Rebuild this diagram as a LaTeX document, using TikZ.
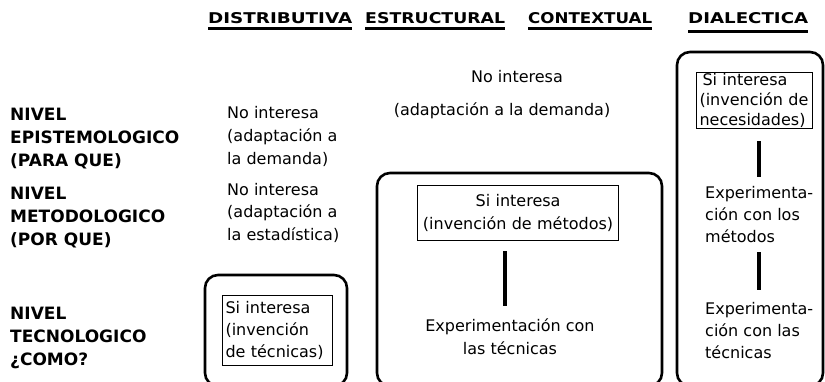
\documentclass[tikz,border=0pt]{standalone}
\usepackage{fontspec}
\setmainfont{DejaVu Sans}
\begin{document}
\begin{tikzpicture}[x=1pt,y=-1pt,
  hdr/.style={inner sep=0pt, anchor=base west, font=\bfseries},
  uline/.style={line width=3pt},
  lbl/.style={inner sep=0pt, anchor=base west, align=left, font=\fontsize{17}{23}\selectfont\bfseries},
  body/.style={inner sep=0pt, align=left, font=\fontsize{16}{23}\selectfont},
  frame/.style={draw, line width=2.6pt, rounded corners=13pt},
  ibox/.style={draw, line width=1.1pt, anchor=north west, inner ysep=0pt, inner xsep=3pt},
  link/.style={line width=3.5pt}]
\useasboundingbox (0,0) rectangle (825,382);

% headers
\node[hdr] (h1) at (208,24) {\resizebox{144pt}{11pt}{DISTRIBUTIVA}};
\node[hdr] (h2) at (365,24) {\resizebox{140pt}{11pt}{ESTRUCTURAL}};
\node[hdr] (h3) at (528,24) {\resizebox{124pt}{11pt}{CONTEXTUAL}};
\node[hdr] (h4) at (688,24) {\resizebox{120pt}{11pt}{DIALECTICA}};
\draw[uline] ([yshift=-4.5pt]h1.base west) -- ([yshift=-4.5pt]h1.base east);
\draw[uline] ([yshift=-4.5pt]h2.base west) -- ([yshift=-4.5pt]h2.base east);
\draw[uline] ([yshift=-4.5pt]h3.base west) -- ([yshift=-4.5pt]h3.base east);
\draw[uline] ([yshift=-8pt]h4.base west) -- ([yshift=-8pt]h4.base east);

% row labels (anchor = baseline of last line)
\node[lbl] (r1) at (10,167) {NIVEL\\EPISTEMOLOGICO\\(PARA QUE)};
\node[lbl] (r2) at (10,246) {NIVEL\\METODOLOGICO\\(POR QUE)};
\node[lbl] (r3) at (10,365) {NIVEL\\TECNOLOGICO\\¿COMO?};

% column 1
\node[body, anchor=base west] (c11) at (227,165) {No interesa\\(adaptación a\\la demanda)};
\node[body, anchor=base west] (c12) at (227,241) {No interesa\\(adaptación a\\la estadística)};
\draw[frame] (205,275) rectangle (347,386);
\node[ibox, body, minimum width=110pt, minimum height=70pt, text width=104pt,
      font=\fontsize{16}{22}\selectfont] (ib1) at (222,295)
      {Si interesa\\(invención\\de técnicas)};

% middle (estructural / contextual)
\node[body, anchor=base] (m1) at (517,83) {No interesa};
\node[body, anchor=base] (m2) at (502,116) {(adaptación a la demanda)};
\draw[frame] (377,173) rectangle (662,386);
\node[ibox, body, align=center, minimum width=201pt, minimum height=55pt, text width=195pt]
      (ib2) at (417,185) {Si interesa\\(invención de métodos)};
\node[body, align=center, anchor=base] (e2) at (510,354) {Experimentación con\\las técnicas};
\draw[link] ([xshift=-5pt,yshift=-10pt]e2.north |- ib2.south) -- ([xshift=-5pt,yshift=12pt]e2.north);

% dialectica
\draw[frame] (677,52) rectangle (823,386);
\node[ibox, body, minimum width=116pt, minimum height=56pt, text width=110pt,
      font=\fontsize{16}{20}\selectfont] (ib3) at (696,72)
      {\hspace*{3pt}Si interesa\\(invención de\\necesidades)};
\node[body, anchor=base west, font=\fontsize{16}{22}\selectfont] (d2) at (705,243) {Experimenta-\\ción con los\\métodos};
\node[body, anchor=base west, font=\fontsize{16}{22}\selectfont] (d3) at (705,358) {Experimenta-\\ción con las\\técnicas};
\draw[link] ([yshift=-12pt]d2.north |- ib3.south) -- ([yshift=10pt]d2.north);
\draw[link] ([yshift=-9pt]d2.south) -- ([yshift=12pt]d3.north);
\end{tikzpicture}
\end{document}
